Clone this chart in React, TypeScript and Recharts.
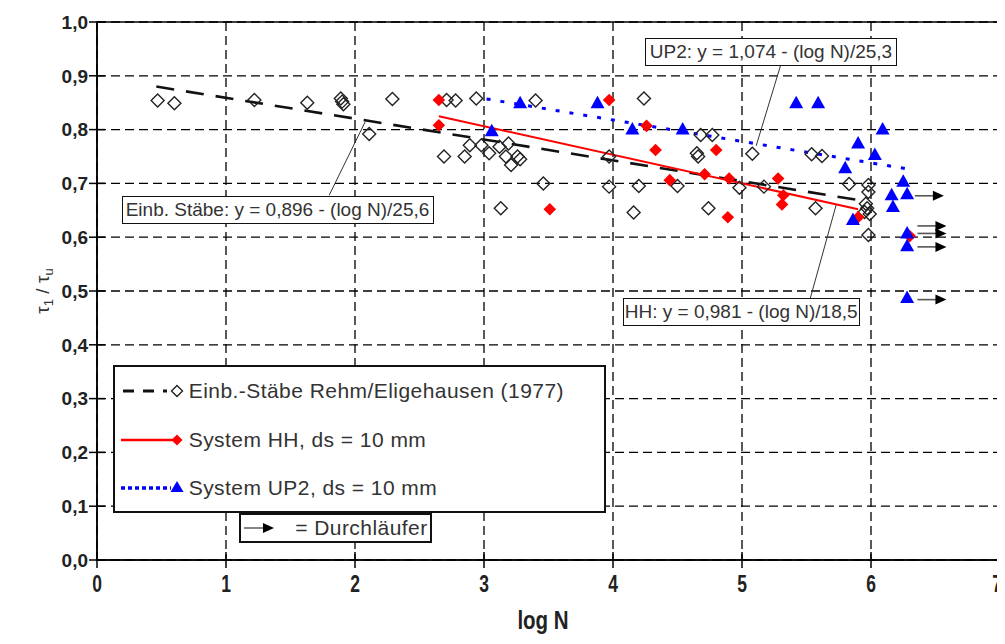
import React from 'react';
import {
  ComposedChart,
  Line,
  Scatter,
  XAxis,
  YAxis,
  CartesianGrid,
  ReferenceLine,
  ReferenceArea,
  Legend,
  Label,
} from 'recharts';

// ---------- data ----------
const xTicks = [0, 1, 2, 3, 4, 5, 6, 7];
const yTicks = [0, 0.1, 0.2, 0.3, 0.4, 0.5, 0.6, 0.7, 0.8, 0.9, 1.0];

const einbLabel = 'Einb.-Stäbe Rehm/Eligehausen (1977)';
const hhLabel = 'System HH, ds = 10 mm';
const up2Label = 'System UP2, ds = 10 mm';
const durchLabel = '= Durchläufer';

const einbEq = 'Einb. Stäbe: y = 0,896 - (log N)/25,6';
const up2Eq = 'UP2: y = 1,074 - (log N)/25,3';
const hhEq = 'HH: y = 0,981 - (log N)/18,5';

const einbPoints = [
  { x: 0.47, y: 0.854 }, { x: 0.6, y: 0.849 }, { x: 1.22, y: 0.855 }, { x: 1.63, y: 0.85 },
  { x: 1.89, y: 0.858 }, { x: 1.9, y: 0.852 }, { x: 1.91, y: 0.847 }, { x: 2.29, y: 0.857 },
  { x: 2.11, y: 0.792 }, { x: 2.69, y: 0.75 }, { x: 2.71, y: 0.855 }, { x: 2.78, y: 0.854 },
  { x: 2.85, y: 0.75 }, { x: 2.89, y: 0.771 }, { x: 2.94, y: 0.858 }, { x: 2.98, y: 0.771 },
  { x: 3.04, y: 0.756 }, { x: 3.12, y: 0.768 }, { x: 3.13, y: 0.654 }, { x: 3.17, y: 0.75 },
  { x: 3.19, y: 0.774 }, { x: 3.21, y: 0.734 }, { x: 3.26, y: 0.75 }, { x: 3.28, y: 0.745 },
  { x: 3.4, y: 0.854 }, { x: 3.46, y: 0.7 }, { x: 3.97, y: 0.75 }, { x: 3.97, y: 0.694 },
  { x: 4.16, y: 0.646 }, { x: 4.2, y: 0.695 }, { x: 4.24, y: 0.858 }, { x: 4.5, y: 0.695 },
  { x: 4.65, y: 0.756 }, { x: 4.66, y: 0.75 }, { x: 4.68, y: 0.79 }, { x: 4.74, y: 0.654 },
  { x: 4.77, y: 0.79 }, { x: 4.98, y: 0.692 }, { x: 5.08, y: 0.755 }, { x: 5.17, y: 0.694 },
  { x: 5.54, y: 0.754 }, { x: 5.57, y: 0.654 }, { x: 5.62, y: 0.751 }, { x: 5.83, y: 0.699 },
  { x: 5.98, y: 0.697 }, { x: 5.98, y: 0.684 }, { x: 5.96, y: 0.662 }, { x: 5.97, y: 0.654 },
  { x: 5.95, y: 0.647 }, { x: 5.99, y: 0.643 }, { x: 5.98, y: 0.604 },
];

const hhPoints = [
  { x: 2.65, y: 0.855 }, { x: 2.65, y: 0.808 }, { x: 3.51, y: 0.652 }, { x: 3.97, y: 0.855 },
  { x: 4.26, y: 0.807 }, { x: 4.33, y: 0.762 }, { x: 4.44, y: 0.706 }, { x: 4.71, y: 0.717 },
  { x: 4.8, y: 0.762 }, { x: 4.9, y: 0.709 }, { x: 4.89, y: 0.637 }, { x: 5.28, y: 0.709 },
  { x: 5.32, y: 0.678 }, { x: 5.31, y: 0.661 }, { x: 5.9, y: 0.637 }, { x: 6.3, y: 0.602 },
];

const up2Points = [
  { x: 3.06, y: 0.797 }, { x: 3.28, y: 0.849 }, { x: 3.88, y: 0.849 }, { x: 4.15, y: 0.8 },
  { x: 4.54, y: 0.8 }, { x: 5.42, y: 0.849 }, { x: 5.59, y: 0.849 }, { x: 6.09, y: 0.8 },
  { x: 5.9, y: 0.774 }, { x: 6.03, y: 0.753 }, { x: 5.8, y: 0.728 }, { x: 6.25, y: 0.703 },
  { x: 6.16, y: 0.678 }, { x: 6.28, y: 0.68 }, { x: 6.17, y: 0.656 }, { x: 5.86, y: 0.632 },
  { x: 6.28, y: 0.607 }, { x: 6.28, y: 0.583 }, { x: 6.28, y: 0.487 },
];

const durchPoints = [
  { x: 6.34, y: 0.677 }, { x: 6.36, y: 0.621 }, { x: 6.36, y: 0.607 },
  { x: 6.36, y: 0.582 }, { x: 6.36, y: 0.484 },
];

const einbFit = [{ x: 0.46, y: 0.88 }, { x: 5.93, y: 0.668 }];
const hhFit = [{ x: 2.65, y: 0.825 }, { x: 5.9, y: 0.652 }];
const up2Fit = [{ x: 3.02, y: 0.857 }, { x: 6.28, y: 0.727 }];

const einbLeader = [{ x: 1.8, y: 0.678 }, { x: 2.08, y: 0.815 }];
const up2Leader = [{ x: 5.3, y: 0.92 }, { x: 5.11, y: 0.77 }];
const hhLeader = [{ x: 5.53, y: 0.487 }, { x: 5.73, y: 0.66 }];

// ---------- styles ----------
const FONT = "'Liberation Sans', Arial, Helvetica, sans-serif";
const RED = '#ff0000';
const BLUE = '#0000ff';
const TXT = '#333';

// ---------- shapes ----------
const OpenDiamond = (p: any) => {
  const { cx, cy } = p;
  const r = 6.5;
  return (
    <path
      d={`M${cx},${cy - r}L${cx + r},${cy}L${cx},${cy + r}L${cx - r},${cy}Z`}
      fill="none"
      stroke="#222"
      strokeWidth={1.4}
    />
  );
};

const RedDiamond = (p: any) => {
  const { cx, cy } = p;
  const r = 6.3;
  return <path d={`M${cx},${cy - r}L${cx + r},${cy}L${cx},${cy + r}L${cx - r},${cy}Z`} fill={RED} />;
};

const BlueTriangle = (p: any) => {
  const { cx, cy } = p;
  return <path d={`M${cx},${cy - 7.5}L${cx + 7},${cy + 5}L${cx - 7},${cy + 5}Z`} fill={BLUE} />;
};

const Arrow = (p: any) => {
  const { cx, cy } = p;
  return (
    <g>
      <line x1={cx} y1={cy} x2={cx + 22} y2={cy} stroke="#555" strokeWidth={1.6} />
      <path d={`M${cx + 18},${cy - 5}L${cx + 29},${cy}L${cx + 18},${cy + 5}Z`} fill="#000" />
    </g>
  );
};

// ---------- ticks & labels ----------
const YTick = (p: any) => {
  const { x, y, payload } = p;
  return (
    <g>
      <line x1={x - 8} x2={x + 8} y1={y} y2={y} stroke="#000" strokeWidth={1.5} />
      <text x={x - 9} y={y} dy="0.36em" textAnchor="end" fontSize={19} fontWeight="bold" fontFamily={FONT} fill="#222">
        {Number(payload.value).toFixed(1).replace('.', ',')}
      </text>
    </g>
  );
};

const XTick = (p: any) => {
  const { x, y, payload } = p;
  const shift = payload.value === 7 ? -3 : 0;
  return (
    <g>
      <line x1={x} x2={x} y1={y - 8} y2={y + 8} stroke="#000" strokeWidth={1.5} />
      <text
        transform={`translate(${x + shift},${y + 32}) scale(0.76,1)`}
        textAnchor="middle"
        fontSize={23}
        fontWeight="bold"
        fontFamily={FONT}
        fill="#222"
      >
        {String(payload.value)}
      </text>
    </g>
  );
};

const YAxisLabel = () => {
  const cx = 34;
  const cy = 283;
  return (
    <text transform={`rotate(-90 ${cx} ${cy})`} x={cx} y={cy} textAnchor="middle" dy="0.35em" fontSize={19} fill={TXT} fontFamily={FONT}>
      τ<tspan dy={4} fontSize={13}>1</tspan>
      <tspan dy={-4}> / τ</tspan>
      <tspan dy={4} fontSize={13}>u</tspan>
    </text>
  );
};

const XAxisLabel = () => (
  <text
    transform="translate(535,621) scale(0.82,1)"
    textAnchor="middle"
    fontSize={25}
    fontWeight="bold"
    fontFamily={FONT}
    fill="#222"
  >
    log N
  </text>
);

// ---------- legend ----------
const legendText: React.CSSProperties = {
  position: 'absolute',
  left: 74,
  fontFamily: FONT,
  fontSize: 21,
  letterSpacing: '0.45px',
  color: TXT,
  whiteSpace: 'nowrap',
  lineHeight: '21px',
};

const LegendContent = () => (
  <div style={{ position: 'relative', width: 493, height: 187 }}>
    <div
      style={{
        position: 'absolute', left: 0, top: 0, width: 493, height: 148, boxSizing: 'border-box',
        border: '2px solid #111', background: '#fff',
      }}
    >
      <svg style={{ position: 'absolute', left: 0, top: 0 }} width={80} height={148}>
        <line x1={8} x2={52} y1={24} y2={24} stroke="#111" strokeWidth={3} strokeDasharray="11 9" />
        <path d="M62,18.5L67.5,24L62,29.5L56.5,24Z" fill="none" stroke="#222" strokeWidth={1.4} />
        <line x1={6} x2={62} y1={73} y2={73} stroke={RED} strokeWidth={2.5} />
        <path d="M62,67.5L67.5,73L62,78.5L56.5,73Z" fill={RED} />
        <line x1={6} x2={56} y1={121} y2={121} stroke={BLUE} strokeWidth={3.5} strokeDasharray="4 3" />
        <path d="M62,114L68.5,125L55.5,125Z" fill={BLUE} />
      </svg>
      <div style={{ ...legendText, top: 13 }}>{einbLabel}</div>
      <div style={{ ...legendText, top: 62 }}>{hhLabel}</div>
      <div style={{ ...legendText, top: 110 }}>{up2Label}</div>
    </div>
    <div
      style={{
        position: 'absolute', left: 126.5, top: 148.5, width: 193, height: 30, boxSizing: 'border-box',
        border: '2px solid #111', background: '#fff',
      }}
    >
      <svg style={{ position: 'absolute', left: 0, top: 0 }} width={50} height={26}>
        <line x1={3} x2={26} y1={13} y2={13} stroke="#666" strokeWidth={1.6} />
        <path d="M22,8L33,13L22,18Z" fill="#000" />
      </svg>
      <div style={{ ...legendText, left: 54, top: 2 }}>{durchLabel}</div>
    </div>
  </div>
);

// ---------- annotation boxes ----------
const eqBox = (left: number, top: number, width: number, text: string) => (
  <div
    style={{
      position: 'absolute', left, top, width, height: 28, boxSizing: 'border-box',
      border: '1.5px solid #111', background: '#fff', fontFamily: FONT, fontSize: 19,
      color: TXT, lineHeight: '25px', textAlign: 'center', whiteSpace: 'nowrap',
    }}
  >
    {text}
  </div>
);

export default function App() {
  return (
    <div style={{ position: 'relative', width: 997, height: 628 }}>
      <ComposedChart width={997} height={628} margin={{ top: 14, right: 5, bottom: 0, left: 0 }}>
        <CartesianGrid stroke="#000" strokeWidth={1.3} strokeDasharray="9 5" />
        <XAxis
          type="number"
          dataKey="x"
          domain={[0, 7]}
          ticks={xTicks}
          interval={0}
          allowDataOverflow
          height={76}
          axisLine={{ stroke: '#000', strokeWidth: 1.5 }}
          tickLine={false}
          tickSize={0}
          tickMargin={0}
          tick={<XTick />}
        >
          <Label content={<XAxisLabel />} />
        </XAxis>
        <YAxis
          type="number"
          domain={[0, 1]}
          ticks={yTicks}
          interval={0}
          allowDataOverflow
          width={89}
          axisLine={{ stroke: '#000', strokeWidth: 1.5 }}
          tickLine={false}
          tickSize={0}
          tickMargin={0}
          tick={<YTick />}
        >
          <Label content={<YAxisLabel />} />
        </YAxis>
        <ReferenceArea x1={0} x2={7} y1={0} y2={1} fill="none" stroke="#000" strokeWidth={1.5} />

        <ReferenceLine segment={einbLeader} stroke="#333" strokeWidth={1} />
        <ReferenceLine segment={up2Leader} stroke="#333" strokeWidth={1} />
        <ReferenceLine segment={hhLeader} stroke="#333" strokeWidth={1} />

        <Line data={einbFit} dataKey="y" type="linear" stroke="#111" strokeWidth={2.6} strokeDasharray="18 12" dot={false} activeDot={false} isAnimationActive={false} legendType="none" />
        <Line data={up2Fit} dataKey="y" type="linear" stroke={BLUE} strokeWidth={3} strokeDasharray="4 10" dot={false} activeDot={false} isAnimationActive={false} legendType="none" />

        <Scatter name={einbLabel} data={einbPoints} dataKey="y" shape={<OpenDiamond />} isAnimationActive={false} />
        <Line data={hhFit} dataKey="y" type="linear" stroke={RED} strokeWidth={2} dot={false} activeDot={false} isAnimationActive={false} legendType="none" />
        <Scatter name={hhLabel} data={hhPoints} dataKey="y" shape={<RedDiamond />} isAnimationActive={false} />
        <Scatter name={up2Label} data={up2Points} dataKey="y" shape={<BlueTriangle />} isAnimationActive={false} />
        <Scatter name={durchLabel} data={durchPoints} dataKey="y" shape={<Arrow />} isAnimationActive={false} />

        <Legend
          layout="vertical"
          align="center"
          verticalAlign="middle"
          content={<LegendContent />}
          wrapperStyle={{ left: 104.7, top: 356.5, width: 493, height: 187 }}
        />
      </ComposedChart>
      {eqBox(113.5, 187.5, 312, einbEq)}
      {eqBox(637, 29.7, 252, up2Eq)}
      {eqBox(614.7, 290.3, 237, hhEq)}
    </div>
  );
}
